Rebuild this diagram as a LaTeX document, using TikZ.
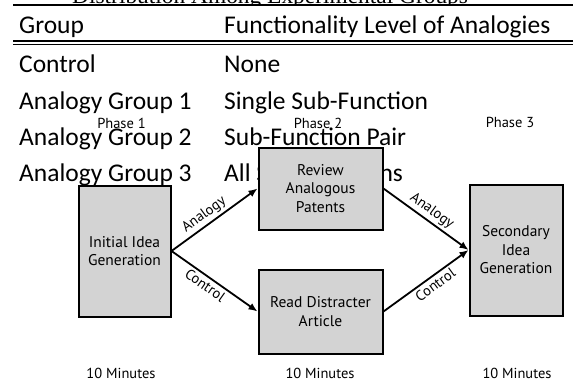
\documentclass[tikz,border=0pt]{standalone}
\usepackage{fontspec}
\newfontfamily\tabfont{Carlito}
\newfontfamily\diafont{PT Sans}
\newfontfamily\titlefont{Liberation Serif}
\usetikzlibrary{arrows.meta}
\definecolor{boxgray}{RGB}{211,211,211}
\tikzset{
  tabtxt/.style={anchor=base west, inner sep=0pt, font=\tabfont\fontsize{25.5}{30}\selectfont},
  rulethick/.style={line width=2.2pt},
  rulethin/.style={line width=1.2pt},
  phasebox/.style={draw=black, line width=2pt, fill=boxgray, align=center,
    font=\diafont\fontsize{15.5}{18.5}\selectfont, inner sep=0pt},
  diatxt/.style={anchor=base, inner sep=0pt, font=\diafont\fontsize{14.5}{17}\selectfont},
  flow/.style={-{Latex[length=9pt,width=7.5pt]}, line width=1.8pt},
  edgelbl/.style={sloped, font=\diafont\fontsize{14.5}{17}\selectfont, inner sep=2.5pt}
}
\begin{document}
\begin{tikzpicture}[x=1pt,y=-1pt]
\useasboundingbox (0,0) rectangle (573,380);
% cut-off title
\begin{scope}
  \clip (0,0) rectangle (573,4.4);
  \node[anchor=base west, inner sep=0pt, font=\titlefont\fontsize{23.4}{28}\selectfont] (title) at (72,3.6) {Distribution Among Experimental Groups};
\end{scope}
% table rules
\coordinate (r1a) at (13,5.3);  \coordinate (r1b) at (573,5.3);
\coordinate (r2a) at (13,41);   \coordinate (r2b) at (573,41);
\coordinate (r3a) at (13,44.6); \coordinate (r3b) at (573,44.6);
\draw[line width=1.7pt] (r1a) -- (r1b);
\draw[rulethick] (r2a) -- (r2b);
\draw[rulethin] (r3a) -- (r3b);
% table text
\node[tabtxt] (hg) at (19,33) {Group};
\node[tabtxt] (hf) at (224,33) {Functionality Level of Analogies};
\node[tabtxt] (g0) at (19,72) {Control};
\node[tabtxt] (f0) at (224,72) {None};
\node[tabtxt] (g1) at (19,109) {Analogy Group 1};
\node[tabtxt] (f1) at (224,109) {Single Sub-Function};
\node[tabtxt] (g2) at (19,145) {Analogy Group 2};
\node[tabtxt] (f2) at (224,145) {Sub-Function Pair};
\node[tabtxt] (g3) at (19,181) {Analogy Group 3};
\node[tabtxt] (f3) at (224,181) {All Sub-Functions};
% diagram
\node[diatxt] (p1) at (121.5,128) {Phase 1};
\node[diatxt] (p2) at (318,128) {Phase 2};
\node[diatxt] (p3) at (510,127) {Phase 3};
\node[phasebox, minimum width=92pt, minimum height=131pt] (b1) at (124.5,251) {Initial Idea\\Generation};
\node[phasebox, minimum width=124pt, minimum height=82pt] (b2) at (320.5,188.5) {Review\\Analogous\\Patents};
\node[phasebox, minimum width=124pt, minimum height=84pt] (b3) at (320.5,311.5) {Read Distracter\\Article};
\node[phasebox, minimum width=93pt, minimum height=131pt] (b4) at (516,250) {Secondary\\Idea\\Generation};
\draw[flow] (b1.east) -- node[edgelbl, above, pos=0.45] {Analogy} (b2.west);
\draw[flow] (b1.east) -- node[edgelbl, below, pos=0.45] {Control} (b3.west);
\draw[flow] (b2.east) -- node[edgelbl, above, pos=0.5] {Analogy} (b4.west);
\draw[flow] (b3.east) -- node[edgelbl, below, pos=0.55] {Control} (b4.west);
\node[diatxt] (m1) at (121,378.5) {10 Minutes};
\node[diatxt] (m2) at (320,378.5) {10 Minutes};
\node[diatxt] (m3) at (517,378.5) {10 Minutes};
\end{tikzpicture}
\end{document}
